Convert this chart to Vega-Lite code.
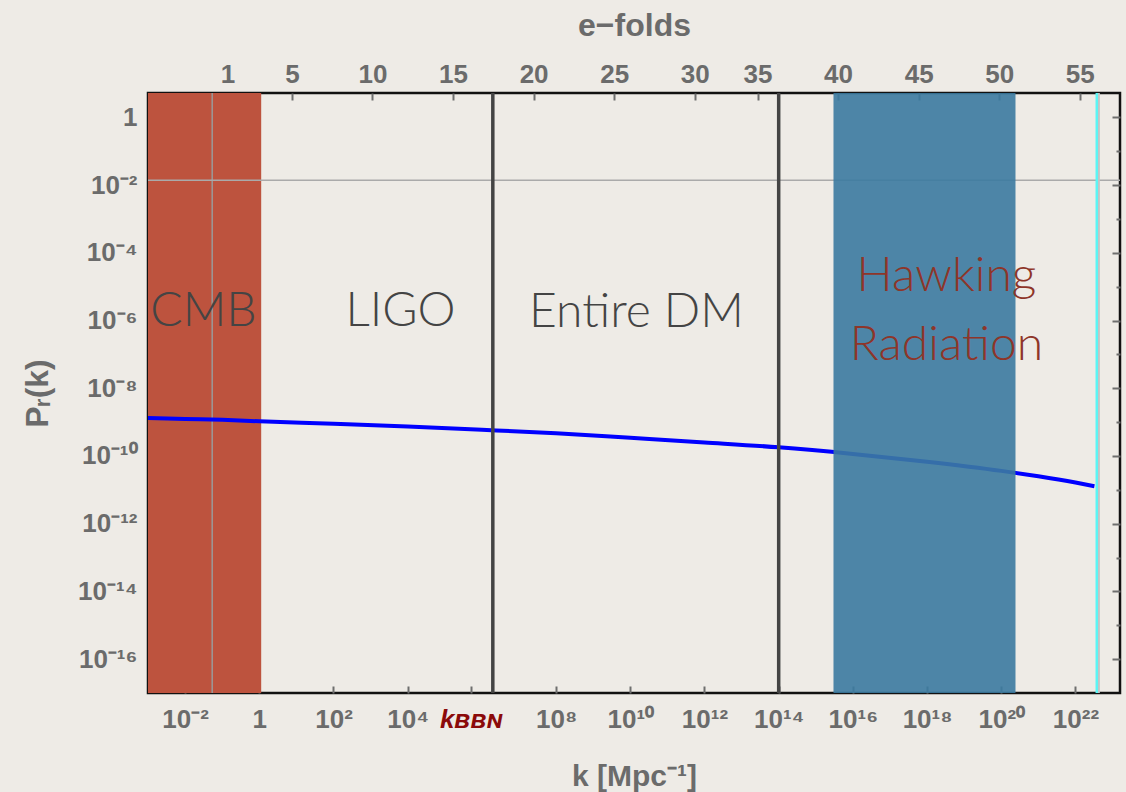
{
  "$schema": "https://vega.github.io/schema/vega-lite/v6.json",
  "width": 972,
  "height": 600,
  "autosize": {"type": "none"},
  "padding": {"left": 148, "top": 93, "right": 6, "bottom": 99},
  "background": "#eeebe6",
  "config": {
    "view": {"stroke": "#111111", "strokeWidth": 2.5},
    "font": "Liberation Sans",
    "axis": {
      "labelFont": "Liberation Sans",
      "labelFontWeight": "bold",
      "labelFontSize": 26,
      "labelColor": "#6b6b6b",
      "titleFont": "Liberation Sans",
      "titleFontWeight": "bold",
      "titleColor": "#6b6b6b",
      "tickColor": "#6e6e6e",
      "tickWidth": 2,
      "domain": false,
      "grid": false
    }
  },
  "datasets": {
    "bands": [
      {"region": "CMB", "k0": 0.001, "k1": 1.125},
      {"region": "Hawking Radiation", "k0": 3.0e15, "k1": 2.415e20}
    ],
    "curve": [
      {"k": 1e-3, "P": 1.318e-9},
      {"k": 1e-2, "P": 1.245e-9},
      {"k": 1e-1, "P": 1.175e-9},
      {"k": 1, "P": 1.059e-9},
      {"k": 1e2, "P": 8.91e-10},
      {"k": 1e4, "P": 7.41e-10},
      {"k": 1e6, "P": 5.96e-10},
      {"k": 1e8, "P": 4.68e-10},
      {"k": 1e10, "P": 3.43e-10},
      {"k": 1e12, "P": 2.51e-10},
      {"k": 1e14, "P": 1.80e-10},
      {"k": 1e16, "P": 1.148e-10},
      {"k": 1e18, "P": 6.76e-11},
      {"k": 1e20, "P": 3.63e-11},
      {"k": 1e21, "P": 2.51e-11},
      {"k": 1e22, "P": 1.64e-11},
      {"k": 3.24e22, "P": 1.28e-11}
    ],
    "bounds": [
      {"name": "k_BBN line", "k": 1.97e6},
      {"name": "DM upper", "k": 1.0e14}
    ],
    "markers": [
      {"name": "pivot", "k": 0.0537},
      {"name": "end", "k": 3.75e22},
      {"name": "edge", "k": 4.27e22}
    ],
    "hline": [
      {"name": "level", "P": 0.01397}
    ],
    "regionLabels": [
      {"label": "CMB", "k": 0.0313, "P": 1.82e-6},
      {"label": "LIGO", "k": 6397, "P": 1.82e-6},
      {"label": "Entire DM", "k": 1.47e10, "P": 1.66e-6}
    ],
    "hawkingLabels": [
      {"label": "Hawking", "k": 3.33e18, "P": 1.92e-5},
      {"label": "Radiation", "k": 3.33e18, "P": 1.82e-7}
    ],
    "efoldTicks": [
      {"N": 1}, {"N": 5}, {"N": 10}, {"N": 15}, {"N": 20}, {"N": 25}, {"N": 30},
      {"N": 33.9}, {"N": 38.9}, {"N": 43.9}, {"N": 48.9}, {"N": 53.9}
    ]
  },
  "resolve": {"scale": {"x": "independent", "y": "independent"}},
  "layer": [
    {
      "layer": [
        {
          "data": {"name": "bands"},
          "transform": [{"filter": "datum.region == 'CMB'"}],
          "mark": {"type": "rect", "fill": "#bd533e", "opacity": 1},
          "encoding": {
            "x": {
              "field": "k0",
              "type": "quantitative",
              "scale": {"type": "log", "domain": [0.001, 1.585e23], "nice": false},
              "axis": {
                "orient": "bottom",
                "values": [0.01, 1, 100, 10000, 514000, 1e8, 1e10, 1e12, 1e14, 1e16, 1e18, 1e20, 1e22],
                "labelExpr": "datum.value == 514000 ? 'kʙʙɴ' : (datum.value == 1 ? '1' : '10' + replace(replace(replace(replace(replace(replace(replace(replace(replace(replace(replace(toString(round(log(datum.value)/LN10)), regexp('-','g'), '⁻'), regexp('0','g'), '⁰'), regexp('1','g'), '¹'), regexp('2','g'), '²'), regexp('3','g'), '³'), regexp('4','g'), '⁴'), regexp('5','g'), '⁵'), regexp('6','g'), '⁶'), regexp('7','g'), '⁷'), regexp('8','g'), '⁸'), regexp('9','g'), '⁹'))",
                "labelColor": {"condition": {"test": "datum.value == 514000", "value": "#8b0a0a"}, "value": "#6b6b6b"},
                "labelFontStyle": {"condition": {"test": "datum.value == 514000", "value": "italic"}, "value": "normal"},
                "labelBaseline": "alphabetic",
                "labelPadding": 41,
                "tickSize": -7,
                "labelOverlap": false,
                "labelFlush": false,
                "title": "k [Mpc⁻¹]",
                "titleFontSize": 30,
                "titleBaseline": "alphabetic",
                "titleY": 92
              }
            },
            "x2": {"field": "k1"}
          }
        },
        {
          "data": {"name": "markers"},
          "transform": [{"filter": "datum.name == 'pivot'"}],
          "mark": {"type": "rule", "stroke": "#9a9a9a", "strokeWidth": 1.5},
          "encoding": {"x": {"field": "k", "type": "quantitative"}}
        },
        {
          "data": {"name": "hline"},
          "mark": {"type": "rule", "stroke": "#aaaaaa", "strokeWidth": 1.5},
          "encoding": {
            "y": {
              "field": "P",
              "type": "quantitative",
              "scale": {"type": "log", "domain": [1e-17, 5.248], "nice": false},
              "axis": {
                "orient": "left",
                "values": [1, 0.1, 0.01, 1e-3, 1e-4, 1e-5, 1e-6, 1e-7, 1e-8, 1e-9, 1e-10, 1e-11, 1e-12, 1e-13, 1e-14, 1e-15, 1e-16],
                "labelExpr": "round(log(datum.value)/LN10) % 2 != 0 ? '' : (datum.value == 1 ? '1' : '10' + replace(replace(replace(replace(replace(replace(replace(replace(replace(replace(replace(toString(round(log(datum.value)/LN10)), regexp('-','g'), '⁻'), regexp('0','g'), '⁰'), regexp('1','g'), '¹'), regexp('2','g'), '²'), regexp('3','g'), '³'), regexp('4','g'), '⁴'), regexp('5','g'), '⁵'), regexp('6','g'), '⁶'), regexp('7','g'), '⁷'), regexp('8','g'), '⁸'), regexp('9','g'), '⁹'))",
                "tickSize": {"condition": {"test": "round(log(datum.value)/LN10) % 2 != 0", "value": -4}, "value": -8},
                "labelPadding": 19,
                "labelBaseline": "middle",
                "labelOverlap": false,
                "labelFlush": false,
                "title": "Pᵣ(k)",
                "titleFontSize": 32,
                "titleBaseline": "middle",
                "titleX": -111
              }
            }
          }
        },
        {
          "data": {"name": "curve"},
          "mark": {"type": "line", "stroke": "#0000ff", "strokeWidth": 4, "interpolate": "monotone"},
          "encoding": {
            "x": {"field": "k", "type": "quantitative"},
            "y": {"field": "P", "type": "quantitative"}
          }
        },
        {
          "data": {"name": "bands"},
          "transform": [{"filter": "datum.region != 'CMB'"}],
          "mark": {"type": "rect", "fill": "#3b7aa0", "opacity": 0.9},
          "encoding": {
            "x": {"field": "k0", "type": "quantitative"},
            "x2": {"field": "k1"}
          }
        },
        {
          "data": {"name": "bounds"},
          "mark": {"type": "rule", "stroke": "#444444", "strokeWidth": 3.5},
          "encoding": {"x": {"field": "k", "type": "quantitative"}}
        },
        {
          "data": {"name": "markers"},
          "transform": [{"filter": "datum.name == 'edge'"}],
          "mark": {"type": "rule", "stroke": "#c4c4c4", "strokeWidth": 2},
          "encoding": {"x": {"field": "k", "type": "quantitative"}}
        },
        {
          "data": {"name": "markers"},
          "transform": [{"filter": "datum.name == 'end'"}],
          "mark": {"type": "rule", "stroke": "#5cf5f5", "strokeWidth": 2.5},
          "encoding": {"x": {"field": "k", "type": "quantitative"}}
        },
        {
          "data": {"name": "regionLabels"},
          "mark": {"type": "text", "font": "Lato", "fontWeight": 300, "fontSize": 48, "fill": "#444444", "align": "center", "baseline": "middle"},
          "encoding": {
            "x": {"field": "k", "type": "quantitative"},
            "y": {"field": "P", "type": "quantitative"},
            "text": {"field": "label"}
          }
        },
        {
          "data": {"name": "hawkingLabels"},
          "mark": {"type": "text", "font": "Lato", "fontWeight": 300, "fontSize": 48, "fill": "#8e3529", "align": "center", "baseline": "middle"},
          "encoding": {
            "x": {"field": "k", "type": "quantitative"},
            "y": {"field": "P", "type": "quantitative"},
            "text": {"field": "label"}
          }
        }
      ]
    },
    {
      "data": {"name": "efoldTicks"},
      "mark": {"type": "point", "opacity": 0},
      "encoding": {
        "x": {
          "field": "N",
          "type": "quantitative",
          "scale": {"type": "linear", "domain": [-3.935, 56.40], "nice": false, "zero": false},
          "axis": {
            "orient": "top",
            "values": [1, 5, 10, 15, 20, 25, 30, 33.9, 38.9, 43.9, 48.9, 53.9],
            "labelExpr": "datum.value > 31 ? toString(round(datum.value + 1.1)) : datum.label",
            "labelBaseline": "alphabetic",
            "labelPadding": 18,
            "tickSize": -7,
            "labelOverlap": false,
            "labelFlush": false,
            "title": "e−folds",
            "titleFontSize": 32,
            "titleBaseline": "alphabetic",
            "titleY": -58
          }
        },
        "y": {
          "datum": 1e-5,
          "type": "quantitative",
          "scale": {"type": "log", "domain": [1e-17, 5.248], "nice": false},
          "axis": {
            "orient": "right",
            "values": [1, 0.1, 0.01, 1e-3, 1e-4, 1e-5, 1e-6, 1e-7, 1e-8, 1e-9, 1e-10, 1e-11, 1e-12, 1e-13, 1e-14, 1e-15, 1e-16],
            "labels": false,
            "tickSize": {"condition": {"test": "round(log(datum.value)/LN10) % 2 != 0", "value": -4}, "value": -8},
            "title": null
          }
        }
      }
    }
  ]
}
